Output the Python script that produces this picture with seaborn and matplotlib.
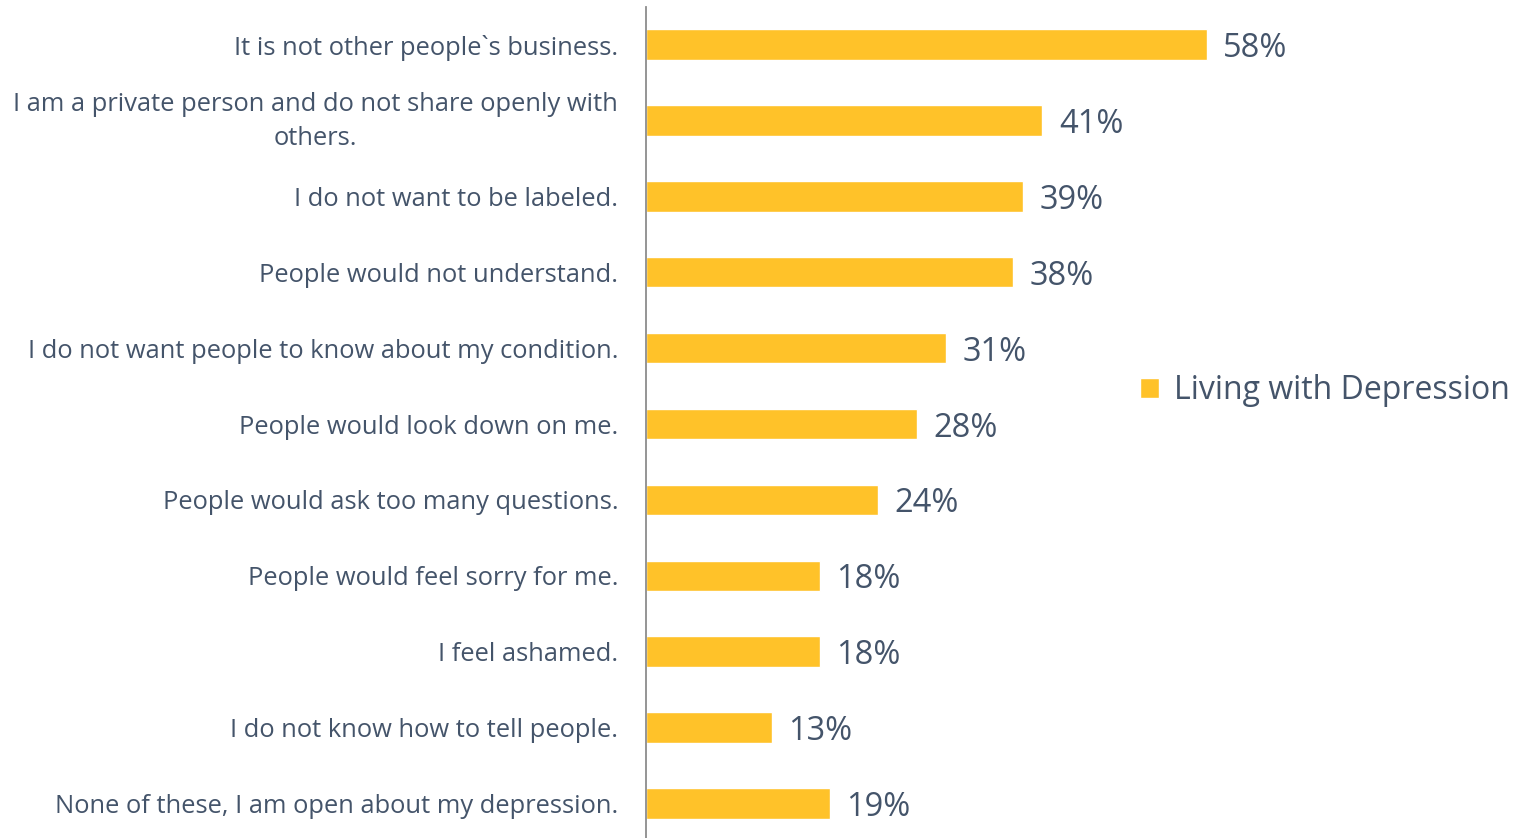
import seaborn as sns
import matplotlib.pyplot as plt
import matplotlib.transforms as mtransforms
import pandas as pd

reasons = [
    "It is not other people`s business.",
    "I am a private person and do not share openly with\nothers.",
    "I do not want to be labeled.",
    "People would not understand.",
    "I do not want people to know about my condition.",
    "People would look down on me.",
    "People would ask too many questions.",
    "People would feel sorry for me.",
    "I feel ashamed.",
    "I do not know how to tell people.",
    "None of these, I am open about my depression.",
]
values = [58, 41, 39, 38, 31, 28, 24, 18, 18, 13, 19]
series_name = "Living with Depression"

bar_color = "#FFC229"
text_color = "#44546A"

df = pd.DataFrame({"reason": reasons, "pct": values})

sns.set_style("white")
plt.rcParams['font.family'] = ['Open Sans', 'DejaVu Sans']

fig = plt.figure(figsize=(15.27, 8.38), dpi=100)
ax = fig.add_axes([0.423, -0.004, 0.577, 0.996])

sns.barplot(data=df, x="pct", y="reason", color=bar_color, width=0.4,
            saturation=1, label=series_name, ax=ax)

ax.set_xlim(0, 91.1)
ax.set_ylim(10.5, -0.5)
for i, v in enumerate(values):
    ax.text(v + 1.7, i, f"{v}%", va="center_baseline", ha="left",
            fontsize=23.5, color=text_color)

ax.set_xlabel("")
ax.set_ylabel("")
ax.set_xticks([])
ax.tick_params(axis="y", length=0, pad=20, labelsize=18.4, labelcolor=text_color)
for lbl in ax.get_yticklabels():
    lbl.set_multialignment("center")
    lbl.set_linespacing(1.5)
    if "\n" in lbl.get_text():
        # nudge the wrapped label up a little, as in the original
        shift = mtransforms.ScaledTranslation(0, 5 / 72, fig.dpi_scale_trans)
        lbl.set_transform(lbl.get_transform() + shift)

for s in ["top", "right", "bottom"]:
    ax.spines[s].set_visible(False)
ax.spines["left"].set_color("#8C8C8C")
ax.spines["left"].set_linewidth(1.3)

leg = ax.legend(loc="center left", bbox_to_anchor=(0.561, 0.54), frameon=False,
                fontsize=23, handlelength=0.6, handleheight=0.6, handletextpad=0.45,
                borderpad=0, borderaxespad=0)
for t in leg.get_texts():
    t.set_color(text_color)

fig.savefig("out.png", dpi=100)
